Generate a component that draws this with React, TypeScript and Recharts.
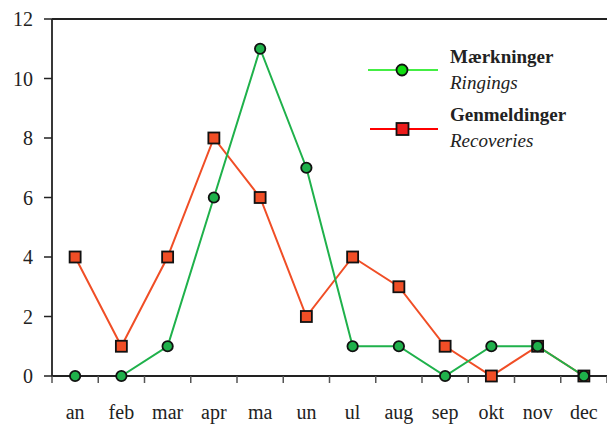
import React from "react";
import { LineChart, Line, XAxis, YAxis, ReferenceLine } from "recharts";

const months = ["an", "feb", "mar", "apr", "ma", "un", "ul", "aug", "sep", "okt", "nov", "dec"];
const ringings = [0, 0, 1, 6, 11, 7, 1, 1, 0, 1, 1, 0];
const recoveries = [4, 1, 4, 8, 6, 2, 4, 3, 1, 0, 1, 0];
const yTicks = [0, 2, 4, 6, 8, 10, 12];

const data = months.map((m, i) => ({ x: i + 0.5, month: m, ring: ringings[i], rec: recoveries[i] }));
const gridTicks = months.map((_, i) => i).concat([months.length]);
const labelTicks = months.map((_, i) => i + 0.5);

const FONT = "'Liberation Serif', 'DejaVu Serif', serif";
const GREEN = "#1fb14b";
const RED = "#f04e26";

const SquareDot = (props: any) => {
  const { cx, cy, index } = props;
  if (cx == null || cy == null) return <g key={index} />;
  return (
    <rect key={index} x={cx - 5.5} y={cy - 5.5} width={11} height={11} fill={RED} stroke="#111" strokeWidth={1.8} />
  );
};

const CircleDot = (props: any) => {
  const { cx, cy, index } = props;
  if (cx == null || cy == null) return <g key={index} />;
  return <circle key={index} cx={cx} cy={cy} r={5.2} fill={GREEN} stroke="#111" strokeWidth={1.8} />;
};

export default function App() {
  return (
    <div style={{ position: "absolute", left: 0, top: 0, width: 607, height: 427, background: "#fff" }}>
      <LineChart width={607} height={427} data={data} margin={{ top: 19, right: 0, bottom: 0, left: 0 }}>
        <XAxis
          xAxisId="grid"
          dataKey="x"
          type="number"
          domain={[0, 12]}
          ticks={gridTicks}
          tickFormatter={() => ""}
          tickSize={7}
          height={1}
          interval={0}
          axisLine={{ stroke: "#222", strokeWidth: 1.8 }}
          tickLine={{ stroke: "#555", strokeWidth: 1.5 }}
        />
        <XAxis
          xAxisId="lab"
          dataKey="x"
          type="number"
          domain={[0, 12]}
          ticks={labelTicks}
          tickFormatter={(v: number) => months[Math.floor(v)]}
          interval={0}
          height={50}
          axisLine={false}
          tickLine={false}
          tickSize={0}
          tickMargin={28}
          tick={{ fontFamily: FONT, fontSize: 20, fill: "#222" }}
        />
        <YAxis
          domain={[0, 12]}
          ticks={yTicks}
          width={52}
          interval={0}
          tickSize={8}
          tickMargin={11}
          axisLine={{ stroke: "#222", strokeWidth: 1.8 }}
          tickLine={{ stroke: "#222", strokeWidth: 1.5 }}
          tick={{ fontFamily: FONT, fontSize: 20, fill: "#222" }}
        />
        <ReferenceLine xAxisId="grid" y={12} stroke="#222" strokeWidth={1.8} />
        <Line
          xAxisId="grid"
          dataKey="rec"
          stroke={RED}
          strokeWidth={2}
          dot={SquareDot}
          isAnimationActive={false}
        />
        <Line
          xAxisId="grid"
          dataKey="ring"
          stroke={GREEN}
          strokeWidth={2}
          dot={CircleDot}
          isAnimationActive={false}
        />
      </LineChart>
      <svg
        width={607}
        height={427}
        style={{ position: "absolute", left: 0, top: 0, pointerEvents: "none" }}
      >
        <line x1={368} y1={70} x2={438} y2={70} stroke="#44ee44" strokeWidth={2} />
        <circle cx={402} cy={70} r={5.5} fill="#11dd11" stroke="#111" strokeWidth={1.8} />
        <text x={450} y={63} fontFamily={FONT} fontSize={19} fontWeight="bold" fill="#222">
          Mærkninger
        </text>
        <text x={450} y={89} fontFamily={FONT} fontSize={19} fontStyle="italic" fill="#222">
          Ringings
        </text>
        <line x1={370} y1={129} x2={438} y2={129} stroke="#ff0000" strokeWidth={2} />
        <rect x={396.5} y={123} width={12} height={12} fill="#ee1c1c" stroke="#111" strokeWidth={1.8} />
        <text x={450} y={121} fontFamily={FONT} fontSize={19} fontWeight="bold" fill="#222">
          Genmeldinger
        </text>
        <text x={450} y={147} fontFamily={FONT} fontSize={19} fontStyle="italic" fill="#222">
          Recoveries
        </text>
      </svg>
    </div>
  );
}
